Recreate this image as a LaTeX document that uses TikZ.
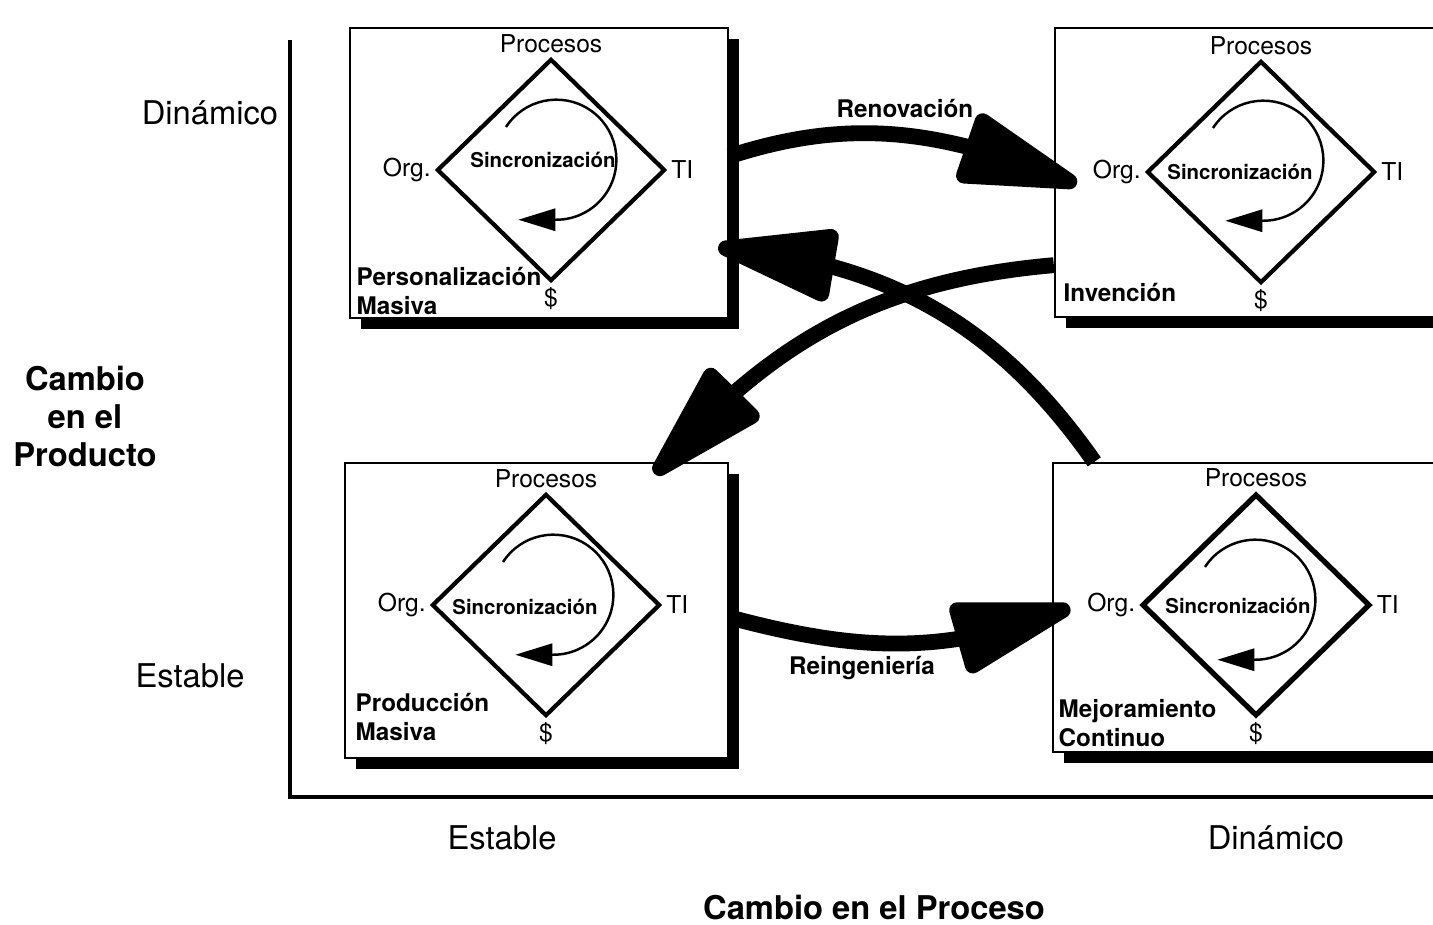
\documentclass[tikz,border=0pt]{standalone}
\usepackage{fontspec}
\setmainfont{TeX Gyre Heros}
\usetikzlibrary{shapes.geometric,shadows,arrows.meta,bending}

\tikzset{
  caja/.style={draw, line width=0.6pt, fill=white, inner sep=0pt,
    minimum width=3.78cm, minimum height=2.90cm,
    drop shadow={shadow xshift=0.11cm, shadow yshift=-0.11cm, fill=black, opacity=1}},
  rombo/.style={draw, diamond, line width=1.2pt, inner sep=0pt,
    minimum width=2.28cm, minimum height=2.22cm},
  vertice/.style={inner sep=1pt, font=\fontsize{7}{8}\selectfont},
  sincro/.style={inner sep=0pt, font=\fontsize{5.8}{7}\selectfont\bfseries},
  esquina/.style={anchor=west, align=left, inner sep=0pt, font=\fontsize{6.9}{8.3}\selectfont\bfseries},
  ciclo/.style={line width=0.7pt, -{Triangle[length=10.5pt,width=6.3pt]}},
  flecha/.style={line width=4.5pt, -{Triangle[length=40pt,width=21pt,round]}},
  eje/.style={font=\fontsize{9.3}{11}\selectfont},
  titulo/.style={align=center, font=\fontsize{9.3}{10.8}\selectfont\bfseries},
  rotulo/.style={font=\fontsize{6.9}{8.3}\selectfont\bfseries}
}

\begin{document}
\begin{tikzpicture}[x=0.01cm, y=0.01cm]
    \useasboundingbox (0,0) rectangle (1433,-924);

    % Ejes
    \draw[line width=0.9pt] (290,-40) -- (290,-797) -- (1440,-797);

    % Rotulos de los ejes
    \node[eje] (din-y) at (210,-113) {Dinámico};
    \node[eje] (est-y) at (190,-676) {Estable};
    \node[eje] (est-x) at (502,-838) {Estable};
    \node[eje] (din-x) at (1276,-838) {Dinámico};
    \node[titulo] (tit-y) at (85,-416) {Cambio\\en el\\Producto};
    \node[titulo] (tit-x) at (874,-908) {Cambio en el Proceso};

    % Personalizacion masiva
    \node[caja] (pm) at (539,-173) {};
    \node[rombo] (pm-d) at (551,-170) {};
    \node[vertice, above] (pm-p) at (pm-d.north) {Procesos};
    \node[vertice, left] (pm-org) at (pm-d.west) {Org.};
    \node[vertice, right] (pm-ti) at (pm-d.east) {TI};
    \node[vertice, below] (pm-s) at (pm-d.south) {\$};
    \node[sincro] (pm-sc) at ([shift={(-8,10)}]pm-d.center) {Sincronización};
    \draw[ciclo] ([shift={(-45,43)}]pm-d.center) arc[start angle=147, end angle=-90, radius=0.6cm] -- ++(-38,0);
    \node[esquina] (pm-l) at (356,-291) {Personalización\\Masiva};

    % Invencion
    \node[caja, minimum width=3.95cm, minimum height=2.89cm] (iv) at (1252.5,-172.5) {};
    \node[rombo] (iv-d) at (1261,-172) {};
    \node[vertice, above] (iv-p) at (iv-d.north) {Procesos};
    \node[vertice, left] (iv-org) at (iv-d.west) {Org.};
    \node[vertice, right] (iv-ti) at (iv-d.east) {TI};
    \node[vertice, below] (iv-s) at (iv-d.south) {\$};
    \node[sincro] (iv-sc) at ([shift={(-21,0)}]iv-d.center) {Sincronización};
    \draw[ciclo] ([shift={(-48,44)}]iv-d.center) arc[start angle=147, end angle=-90, radius=0.6cm] -- ++(-38,0);
    \node[esquina] (iv-l) at (1063,-292) {Invención};

    % Produccion masiva
    \node[caja, minimum width=3.83cm, minimum height=2.95cm] (mp) at (536.5,-610.5) {};
    \node[rombo] (mp-d) at (546,-605) {};
    \node[vertice, above] (mp-p) at (mp-d.north) {Procesos};
    \node[vertice, left] (mp-org) at (mp-d.west) {Org.};
    \node[vertice, right] (mp-ti) at (mp-d.east) {TI};
    \node[vertice, below] (mp-s) at (mp-d.south) {\$};
    \node[sincro] (mp-sc) at ([shift={(-21,-2)}]mp-d.center) {Sincronización};
    \draw[ciclo] ([shift={(-43,43)}]mp-d.center) arc[start angle=147, end angle=-90, radius=0.6cm] -- ++(-38,0);
    \node[esquina] (mp-l) at (355,-717) {Producción\\Masiva};

    % Mejoramiento continuo
    \node[caja, minimum width=3.95cm, minimum height=2.89cm] (mc) at (1250.5,-607.5) {};
    \node[rombo, line width=1.5pt] (mc-d) at (1256,-605) {};
    \node[vertice, above] (mc-p) at (mc-d.north) {Procesos};
    \node[vertice, left] (mc-org) at (mc-d.west) {Org.};
    \node[vertice, right] (mc-ti) at (mc-d.east) {TI};
    \node[vertice, below] (mc-s) at (mc-d.south) {\$};
    \node[sincro] (mc-sc) at ([shift={(-18,-1)}]mc-d.center) {Sincronización};
    \draw[ciclo] ([shift={(-51,38)}]mc-d.center) arc[start angle=147, end angle=-90, radius=0.6cm] -- ++(-38,0);
    \node[esquina] (mc-l) at (1058,-723.5) {Mejoramiento\\Continuo};

    % Flechas de transicion
    \draw[flecha] (pm.5) to[out=18, in=158] ([shift={(-68,-12)}]iv-d.west);
    \draw[flecha] (mc.137) to[out=125, in=-5] ([shift={(-11,-74)}]pm.east);
    \draw[flecha] (iv.205) to[out=185, in=49] ([shift={(118,-12)}]mp.north);
    \draw[flecha] (mp.-2) to[out=-15, in=201] ([shift={(-69,-3)}]mc-d.west);
    \node[rotulo] (renov) at (905,-108) {Renovación};
    \node[rotulo] (reing) at (862,-668) {Reingeniería};
\end{tikzpicture}
\end{document}
